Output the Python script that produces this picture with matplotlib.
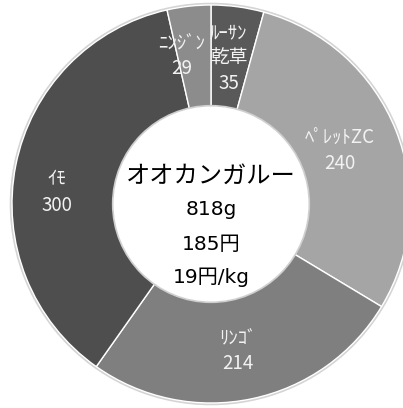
import matplotlib
matplotlib.use('Agg')
import matplotlib.pyplot as plt
import numpy as np

plt.rcParams['font.family'] = ['Noto Sans CJK JP', 'DejaVu Sans']

# feed items, clockwise from 12 o'clock
names = ['ﾙｰｻﾝ\n乾草', 'ﾍﾟﾚｯﾄZC', 'ﾘﾝｺﾞ', 'ｲﾓ', 'ﾆﾝｼﾞﾝ']
grams = [35, 240, 214, 300, 29]
colors = ['#595959', '#a5a5a5', '#7f7f7f', '#4e4e4e', '#8c8c8c']
# small label shifts (pixels) to follow the original layout
nudges = [(-2, -1), (-9, -2), (-4, -2), (-9, -17), (-13, 1)]

animal = 'オオカンガルー'
total_g = '818g'
cost = '185円'
per_kg = '19円/kg'

fig = plt.figure(figsize=(4.03, 4.08), dpi=100)
ax = fig.add_axes([0, 0, 1, 1])

R = 1.0
width = 0.51

# faint shadow rims
ax.add_patch(plt.Circle((0, 0), R + 0.008, color='#d4d4d4', zorder=0))
ax.add_patch(plt.Circle((0, 0), R - width, color='white', zorder=0.5))
wedges, _ = ax.pie(grams, colors=colors, startangle=90, counterclock=False,
                   radius=R, wedgeprops=dict(width=width, edgecolor='white', linewidth=1.0))
ax.add_patch(plt.Circle((0, 0), R - width + 0.004, fill=False, edgecolor='#cfcfcf',
                        linewidth=1.2, zorder=3))

rmid = R - width / 2
for w, name, g, (dx, dy) in zip(wedges, names, grams, nudges):
    ang = np.deg2rad((w.theta1 + w.theta2) / 2)
    x, y = rmid * np.cos(ang), rmid * np.sin(ang)
    ax.annotate(name + '\n' + str(g), xy=(x, y), xytext=(dx, dy), textcoords='offset pixels',
                ha='center', va='center', color='#f2f2f2', fontsize=13.5, linespacing=1.3)

num_font = ['DejaVu Sans', 'Noto Sans CJK JP']
ax.text(0, 0.14, animal, ha='center', va='center', fontsize=17.5, color='black')
ax.text(0, -0.03, total_g, ha='center', va='center', fontsize=14.5, color='black', family=num_font)
ax.text(0, -0.205, cost, ha='center', va='center', fontsize=14.5, color='black', family=num_font)
ax.text(0, -0.37, per_kg, ha='center', va='center', fontsize=14.5, color='black', family=num_font)

# centre at (211, 204) px, radius 199 px
s = 199.0
ax.set_xlim(-211 / s, (403 - 211) / s)
ax.set_ylim(-(408 - 204) / s, 204 / s)
ax.set_aspect('auto')
ax.axis('off')

fig.savefig('out.png', dpi=100, facecolor='white')
